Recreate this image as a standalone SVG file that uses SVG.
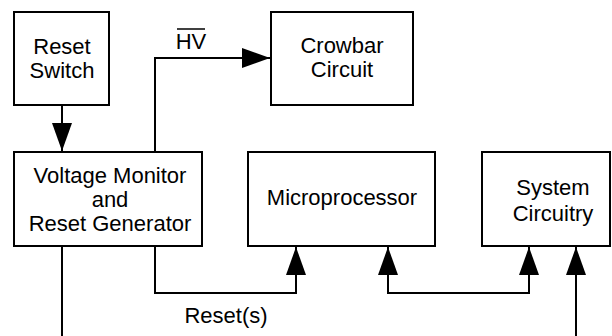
<svg xmlns="http://www.w3.org/2000/svg" width="612" height="336" viewBox="0 0 612 336">
<defs>
<style>
.box{fill:#fff;stroke:#000;stroke-width:2}
.lbl{font-family:"Liberation Sans",Arial,sans-serif;font-size:22px;fill:#000;text-anchor:middle}
.con{fill:none;stroke:#000;stroke-width:2}
</style>
<marker id="ah" markerUnits="userSpaceOnUse" markerWidth="28" markerHeight="20" refX="28" refY="10" orient="auto-start-reverse" viewBox="0 0 28 20">
<path d="M0,0 L28,10 L0,20 Z" fill="#000"/>
</marker>
</defs>
<rect width="612" height="336" fill="#fff"/>
<g id="connectors">
<path class="con" d="M62,105 V151" marker-end="url(#ah)"/>
<path class="con" d="M155,152 V58 H270" marker-end="url(#ah)"/>
<path class="con" d="M155,246 V293 H296 V247" marker-end="url(#ah)"/>
<path class="con" d="M388,247 V293 H529 V247" marker-start="url(#ah)" marker-end="url(#ah)"/>
<path class="con" d="M62,246 V336"/>
<path class="con" d="M576,336 V247" marker-end="url(#ah)"/>
<text class="lbl" x="191" y="49">HV</text>
<line x1="177" y1="29" x2="205" y2="29" stroke="#000" stroke-width="1.5"/>
<text class="lbl" x="226" y="323">Reset(s)</text>
</g>
<g id="reset-switch">
<rect class="box" x="14" y="12" width="95" height="93"/>
<text class="lbl" x="62" y="54">Reset</text>
<text class="lbl" x="62" y="78">Switch</text>
</g>
<g id="crowbar">
<rect class="box" x="271" y="12" width="142" height="93"/>
<text class="lbl" x="342" y="53">Crowbar</text>
<text class="lbl" x="342" y="77">Circuit</text>
</g>
<g id="voltage-monitor">
<rect class="box" x="14" y="152" width="188" height="94"/>
<text class="lbl" x="110" y="183">Voltage Monitor</text>
<text class="lbl" x="110" y="207">and</text>
<text class="lbl" x="110" y="231">Reset Generator</text>
</g>
<g id="microprocessor">
<rect class="box" x="248" y="152" width="187" height="94"/>
<text class="lbl" x="342" y="205">Microprocessor</text>
</g>
<g id="system-circuitry">
<rect class="box" x="482" y="152" width="128" height="94"/>
<text class="lbl" x="553" y="195">System</text>
<text class="lbl" x="553" y="221">Circuitry</text>
</g>
</svg>
